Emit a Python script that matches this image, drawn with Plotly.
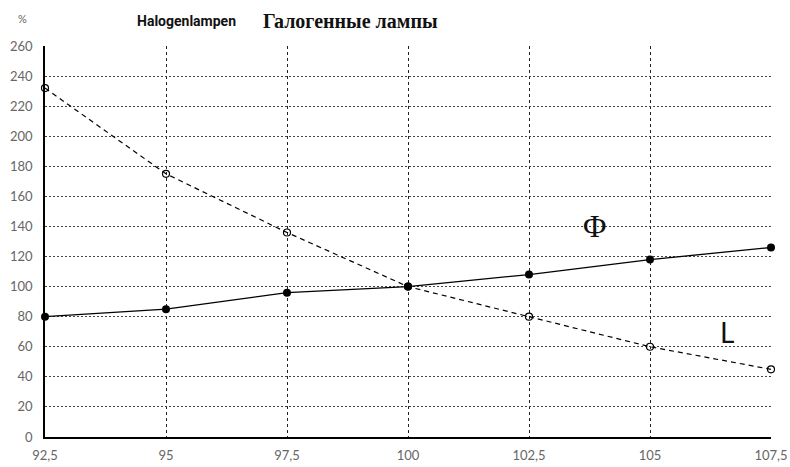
import plotly.graph_objects as go

# Voltage (% of rated) and relative values (%)
voltage = [92.5, 95, 97.5, 100, 102.5, 105, 107.5]
flux = [80, 85, 96, 100, 108, 118, 126]          # Φ – luminous flux
life = [232, 175, 136, 100, 80, 60, 45]          # L – lamp life

x_ticks = [92.5, 95, 97.5, 100, 102.5, 105, 107.5]
x_tick_labels = ["92,5", "95", "97,5", "100", "102,5", "105", "107,5"]
y_ticks = list(range(0, 261, 20))

fig = go.Figure()

fig.add_trace(go.Scatter(
    x=voltage, y=life, mode="lines+markers",
    line=dict(color="black", width=1.2, dash="5px,4px"),
    marker=dict(symbol="circle-open", size=7, color="black", line=dict(width=1.2)),
    cliponaxis=False, showlegend=False,
))
fig.add_trace(go.Scatter(
    x=voltage, y=flux, mode="lines+markers",
    line=dict(color="black", width=1.3),
    marker=dict(symbol="circle", size=8, color="black"),
    cliponaxis=False, showlegend=False,
))

tick_font = dict(family="Lato, Open Sans, sans-serif", size=13, color="#666666")

fig.update_xaxes(
    range=[92.5, 107.5], tickvals=x_ticks, ticktext=x_tick_labels,
    showgrid=True, gridcolor="#222222", gridwidth=1, griddash="3px,3px",
    showline=True, linecolor="black", linewidth=1.5, automargin=False,
    zeroline=False, ticks="", tickfont=tick_font, ticklabelstandoff=6,
)
fig.update_yaxes(
    range=[0, 260], tickvals=y_ticks,
    showgrid=True, gridcolor="#444444", gridwidth=1, griddash="2px,2px",
    showline=True, linecolor="black", linewidth=1.5, automargin=False,
    zeroline=False, ticks="", tickfont=tick_font, ticklabelstandoff=8,
)

fig.add_annotation(xref="paper", yref="paper", x=-0.022, y=1.07,
                   text="%", showarrow=False, xanchor="right", yanchor="middle",
                   font=dict(family="Lato, sans-serif", size=11, color="#666666"))
fig.add_annotation(xref="paper", yref="paper", x=0.124, y=1.065,
                   text="<b>Halogenlampen</b>", showarrow=False, xanchor="left", yanchor="middle",
                   font=dict(family="Roboto, sans-serif", size=14, color="#111111"))
fig.add_annotation(xref="paper", yref="paper", x=0.298, y=1.065,
                   text="<b>Галогенные лампы</b>", showarrow=False, xanchor="left", yanchor="middle",
                   font=dict(family="Liberation Serif, DejaVu Serif, serif", size=20, color="#111111"))
fig.add_annotation(x=103.86, y=140, text="Φ", showarrow=False,
                   font=dict(family="Liberation Serif, serif", size=32, color="#111111"))
fig.add_annotation(x=106.6, y=70, text="L", showarrow=False,
                   font=dict(family="Lato, sans-serif", size=28, color="#111111"))

fig.update_layout(
    width=790, height=467,
    margin=dict(l=45, r=19, t=46, b=30),
    plot_bgcolor="white", paper_bgcolor="white",
)

fig.write_html("out.html")
